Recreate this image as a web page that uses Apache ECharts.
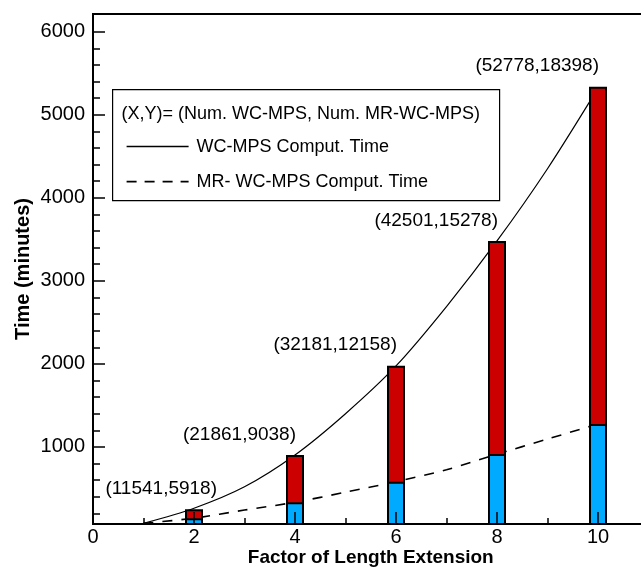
<!DOCTYPE html>
<html>
<head>
<meta charset="utf-8">
<script src="https://cdn.jsdelivr.net/npm/echarts@6/dist/echarts.min.js"></script>
<style>
  html, body { margin: 0; padding: 0; background: #fff; }
  #chart { width: 641px; height: 567px; }
</style>
</head>
<body>
<div id="chart"></div>
<script>
// Length-extension factors with a bar each
const factors = [2, 4, 6, 8, 10];
// Computing time (minutes) for each factor
const wcTime = [250, 903, 1978, 3480, 5338];
const mrTime = [142, 334, 582, 915, 1276];
// Particle counts printed above each bar: (Num. WC-MPS, Num. MR-WC-MPS)
const wcCount = [11541, 21861, 32181, 42501, 52778];
const mrCount = [5918, 9038, 12158, 15278, 18398];
// Fitted timing curves
const curveFactors = [1, 2, 3, 4, 5, 6, 7, 8, 9, 10];
const wcCurve = [80, 262, 520, 903, 1400, 1975, 2690, 3480, 4350, 5320];
const mrCurve = [80, 142, 240, 334, 455, 582, 725, 912, 1095, 1276];
// Tick positions
const xMajorTicks = [0, 2, 4, 6, 8, 10];
const xMinorTicks = [1, 3, 5, 7, 9];
const yMajorTicks = [1000, 2000, 3000, 4000, 5000, 6000];
const yMinorTicks = [200, 400, 600, 800, 1200, 1400, 1600, 1800, 2200, 2400, 2600, 2800,
  3200, 3400, 3600, 3800, 4200, 4400, 4600, 4800, 5200, 5400, 5600, 5800];
// Text
const xTitle = 'Factor of Length Extension';
const yTitle = 'Time (minutes)';
const legendHeader = '(X,Y)= (Num. WC-MPS, Num. MR-WC-MPS)';
const legendSolid = 'WC-MPS Comput. Time';
const legendDashed = 'MR- WC-MPS Comput. Time';

const FONT = '"Liberation Sans", Arial, Helvetica, sans-serif';
const X_MIN = 0, X_MAX = 11;
const Y_MIN = 72, Y_MAX = 6213;

const chart = echarts.init(document.getElementById('chart'), null, { renderer: 'canvas' });

const axisLineStyle = { show: true, lineStyle: { color: '#000', width: 2 } };
const tickLine = { color: '#000', width: 1.5 };
const plainNumber = v => String(v);

const option = {
  animation: false,
  backgroundColor: '#fff',
  grid: {
    left: 93, top: 14, width: 555.5, height: 510,
    outerBoundsMode: 'none', containLabel: false,
    show: true, borderColor: '#000', borderWidth: 2, backgroundColor: 'transparent'
  },
  // axes sit on their own layer so the ticks stay visible over the bars
  xAxis: [
    {
      type: 'value', min: X_MIN, max: X_MAX, position: 'bottom', zlevel: 1, z: 10,
      axisLine: axisLineStyle,
      axisTick: { show: true, inside: true, length: 12, lineStyle: tickLine, customValues: xMajorTicks },
      axisLabel: { show: true, customValues: xMajorTicks, formatter: plainNumber,
        color: '#000', fontSize: 20, fontFamily: FONT, margin: 3 },
      splitLine: { show: false },
      name: xTitle, nameLocation: 'middle', nameGap: 24, nameMoveOverlap: false,
      nameTextStyle: { color: '#000', fontSize: 19, fontWeight: 'bold', fontFamily: FONT }
    },
    {
      type: 'value', min: X_MIN, max: X_MAX, position: 'bottom', offset: 0, zlevel: 1, z: 10,
      axisLine: { show: false },
      axisTick: { show: true, inside: true, length: 6, lineStyle: tickLine, customValues: xMinorTicks },
      axisLabel: { show: false },
      splitLine: { show: false }
    }
  ],
  yAxis: [
    {
      type: 'value', min: Y_MIN, max: Y_MAX, position: 'left', offset: 0, zlevel: 1, z: 10,
      axisLine: axisLineStyle,
      axisTick: { show: true, inside: true, length: 12, lineStyle: tickLine, customValues: yMajorTicks },
      axisLabel: { show: true, customValues: yMajorTicks, formatter: plainNumber,
        color: '#000', fontSize: 20, fontFamily: FONT, margin: 8 },
      splitLine: { show: false },
      name: yTitle, nameLocation: 'middle', nameGap: 60, nameMoveOverlap: false,
      nameTextStyle: { color: '#000', fontSize: 20, fontWeight: 'bold', fontFamily: FONT }
    },
    {
      type: 'value', min: Y_MIN, max: Y_MAX, position: 'left', offset: 0, zlevel: 1, z: 10,
      axisLine: { show: false },
      axisTick: { show: true, inside: true, length: 7, lineStyle: tickLine, customValues: yMinorTicks },
      axisLabel: { show: false },
      splitLine: { show: false }
    }
  ],
  series: [
    {
      name: legendSolid, type: 'line', xAxisIndex: 0, yAxisIndex: 0,
      data: curveFactors.map((f, i) => [f, wcCurve[i]]),
      smooth: 0.3, symbol: 'none', z: 1,
      lineStyle: { color: '#000', width: 1.2 }
    },
    {
      name: legendDashed, type: 'line', xAxisIndex: 0, yAxisIndex: 0,
      data: curveFactors.map((f, i) => [f, mrCurve[i]]),
      smooth: 0.3, symbol: 'none', z: 1,
      lineStyle: { color: '#000', width: 1.6, type: [10, 9] }
    },
    {
      name: 'WC-MPS', type: 'bar', xAxisIndex: 0, yAxisIndex: 0,
      barWidth: 18, barGap: '-100%', z: 2,
      itemStyle: { color: '#CC0000', borderColor: '#000', borderWidth: 2 },
      data: factors.map((f, i) => i === 0
        ? { value: [f, wcTime[i]], label: { offset: [23, -6] } }
        : { value: [f, wcTime[i]] }),
      label: {
        show: true, position: 'top', align: 'right', offset: [1, -6],
        color: '#000', fontSize: 19, fontFamily: FONT,
        formatter: p => '(' + wcCount[p.dataIndex] + ',' + mrCount[p.dataIndex] + ')'
      }
    },
    {
      name: 'MR-WC-MPS', type: 'bar', xAxisIndex: 0, yAxisIndex: 0,
      barWidth: 18, barGap: '-100%', z: 2,
      itemStyle: { color: '#00AAFF', borderColor: '#000', borderWidth: 2 },
      data: factors.map((f, i) => [f, mrTime[i]])
    }
  ],
  graphic: [
    {
      type: 'group', left: 112, top: 89, z: 20,
      children: [
        { type: 'rect', shape: { x: 0, y: 0, width: 387, height: 111 },
          style: { fill: '#fff', stroke: '#000', lineWidth: 1.2 } },
        { type: 'text', x: 9, y: 24,
          style: { text: legendHeader, font: '18px ' + FONT, fill: '#000', verticalAlign: 'middle' } },
        { type: 'line', shape: { x1: 14, y1: 57, x2: 76, y2: 57 },
          style: { stroke: '#000', lineWidth: 1.5 } },
        { type: 'text', x: 84, y: 57,
          style: { text: legendSolid, font: '18px ' + FONT, fill: '#000', verticalAlign: 'middle' } },
        { type: 'line', shape: { x1: 14, y1: 92, x2: 76, y2: 92 },
          style: { stroke: '#000', lineWidth: 1.8, lineDash: [10, 8] } },
        { type: 'text', x: 84, y: 92,
          style: { text: legendDashed, font: '18px ' + FONT, fill: '#000', verticalAlign: 'middle' } }
      ]
    }
  ]
};

chart.setOption(option);
</script>
</body>
</html>
